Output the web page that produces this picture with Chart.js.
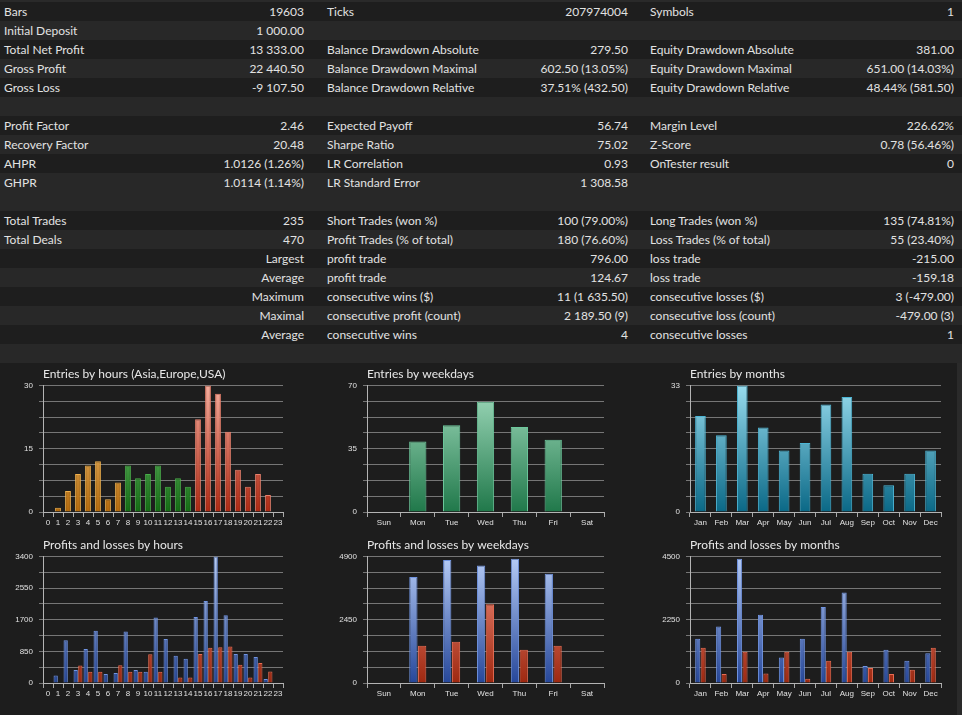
<!DOCTYPE html>
<html>
<head>
<meta charset="utf-8">
<title>Tester report</title>
<script src="https://cdn.jsdelivr.net/npm/chart.js@4.4.1/dist/chart.umd.min.js"></script>
<style>
    html, body { margin: 0; padding: 0; background: #1d1d1d; }
    body {
        width: 962px; height: 715px; position: relative; overflow: hidden;
        font-family: Lato, "Noto Sans", sans-serif; font-size: 12px; color: #e2e2e2;
    }
    #report { position: absolute; left: 0; top: 0; width: 962px; }
    .strip { height: 2px; background: #2a2a2a; }
    .row { position: relative; height: 19px; line-height: 19px; }
    .row.dark { background: #1e1e1e; }
    .row.light { background: #282828; }
    .row span { position: absolute; top: 0; white-space: nowrap; }
    .c0 { left: 4px; }
    .c1 { right: 658px; }
    .c2 { left: 327px; }
    .c3 { right: 334px; }
    .c4 { left: 650px; }
    .c5 { right: 8px; }
    canvas { position: absolute; }
    #edge { position: absolute; left: 957px; top: 363px; width: 5px; height: 352px; background: #2a2a2a; }
</style>
</head>
<body>
<div id="report"></div>
<div id="edge"></div>
<canvas id="hoursEntries" width="320" height="171" style="left:0;top:363px"></canvas>
<canvas id="daysEntries" width="320" height="171" style="left:320px;top:363px"></canvas>
<canvas id="monthsEntries" width="315" height="171" style="left:642px;top:363px"></canvas>
<canvas id="hoursPL" width="320" height="181" style="left:0;top:534px"></canvas>
<canvas id="daysPL" width="320" height="181" style="left:320px;top:534px"></canvas>
<canvas id="monthsPL" width="315" height="181" style="left:642px;top:534px"></canvas>
<script>
// ------------------ REPORT TABLE ------------------
// null = empty separator row
const reportRows = [
    ['Bars', '19603', 'Ticks', '207974004', 'Symbols', '1'],
    ['Initial Deposit', '1 000.00', '', '', '', ''],
    ['Total Net Profit', '13 333.00', 'Balance Drawdown Absolute', '279.50', 'Equity Drawdown Absolute', '381.00'],
    ['Gross Profit', '22 440.50', 'Balance Drawdown Maximal', '602.50 (13.05%)', 'Equity Drawdown Maximal', '651.00 (14.03%)'],
    ['Gross Loss', '-9 107.50', 'Balance Drawdown Relative', '37.51% (432.50)', 'Equity Drawdown Relative', '48.44% (581.50)'],
    null,
    ['Profit Factor', '2.46', 'Expected Payoff', '56.74', 'Margin Level', '226.62%'],
    ['Recovery Factor', '20.48', 'Sharpe Ratio', '75.02', 'Z-Score', '0.78 (56.46%)'],
    ['AHPR', '1.0126 (1.26%)', 'LR Correlation', '0.93', 'OnTester result', '0'],
    ['GHPR', '1.0114 (1.14%)', 'LR Standard Error', '1 308.58', '', ''],
    null,
    ['Total Trades', '235', 'Short Trades (won %)', '100 (79.00%)', 'Long Trades (won %)', '135 (74.81%)'],
    ['Total Deals', '470', 'Profit Trades (% of total)', '180 (76.60%)', 'Loss Trades (% of total)', '55 (23.40%)'],
    ['', 'Largest', 'profit trade', '796.00', 'loss trade', '-215.00'],
    ['', 'Average', 'profit trade', '124.67', 'loss trade', '-159.18'],
    ['', 'Maximum', 'consecutive wins ($)', '11 (1 635.50)', 'consecutive losses ($)', '3 (-479.00)'],
    ['', 'Maximal', 'consecutive profit (count)', '2 189.50 (9)', 'consecutive loss (count)', '-479.00 (3)'],
    ['', 'Average', 'consecutive wins', '4', 'consecutive losses', '1'],
    null
];

// ------------------ CHART DATA ------------------
const hourLabels = ['0', '1', '2', '3', '4', '5', '6', '7', '8', '9', '10', '11',
    '12', '13', '14', '15', '16', '17', '18', '19', '20', '21', '22', '23'];
const hourEntries = [null, 1, 5, 9, 11, 12, 3, 7, 11, 8, 9, 11, 6, 8, 6, 22, 30, 28, 19, 10, 6, 9, 4, null];
const hourSessions = ['Asia', 'Asia', 'Asia', 'Asia', 'Asia', 'Asia', 'Asia', 'Asia',
    'Europe', 'Europe', 'Europe', 'Europe', 'Europe', 'Europe', 'Europe',
    'USA', 'USA', 'USA', 'USA', 'USA', 'USA', 'USA', 'USA', 'USA'];
const hourProfits = [null, 200, 1150, 350, 910, 1400, 240, 270, 1380, 350, 300, 1760,
    1180, 730, 650, 1770, 2200, 3400, 1820, 780, 780, 700, 110, null];
const hourLosses = [null, null, null, 470, 300, 300, null, 480, 300, 300, 770, 300,
    null, 150, 150, 780, 950, 960, 980, 490, 150, 540, 310, null];

const weekdayLabels = ['Sun', 'Mon', 'Tue', 'Wed', 'Thu', 'Fri', 'Sat'];
const weekdayEntries = [null, 39, 48, 61, 47, 40, null];
const weekdayProfits = [null, 4100, 4760, 4550, 4810, 4230, null];
const weekdayLosses = [null, 1440, 1600, 3050, 1290, 1440, null];

const monthLabels = ['Jan', 'Feb', 'Mar', 'Apr', 'May', 'Jun', 'Jul', 'Aug', 'Sep', 'Oct', 'Nov', 'Dec'];
const monthEntries = [25, 20, 33, 22, 16, 18, 28, 30, 10, 7, 10, 16];
const monthProfits = [1570, 2010, 4420, 2430, 910, 1570, 2700, 3220, 600, 1180, 790, 1060];
const monthLosses = [1250, 320, 1110, 340, 1110, 150, 790, 1110, 530, 320, 470, 1250];

// y axis: max value and the ticks that carry a label (8 grid steps)
const hourEntriesTicks = [0, 15, 30];
const weekdayEntriesTicks = [0, 35, 70];
const monthEntriesTicks = [0, 33];
const hourPLTicks = [0, 850, 1700, 2550, 3400];
const weekdayPLTicks = [0, 2450, 4900];
const monthPLTicks = [0, 2250, 4500];

// ------------------ TABLE ------------------
function buildReport() {
    const report = document.getElementById('report');
    let html = '<div class="strip"></div>';
    let dark = true;
    reportRows.forEach(row => {
        if (!row) {
            html += '<div class="row light"></div>';
            dark = true;
            return;
        }
        html += `<div class="row ${dark ? 'dark' : 'light'}">` +
            row.map((t, i) => `<span class="c${i}">${t}</span>`).join('') + '</div>';
        dark = !dark;
    });
    report.innerHTML = html;
}

// ------------------ CHARTS ------------------
const palette = {
    Asia: { bottom: '#b46a0c', top: '#ffd890', border: '#f0b04c' },
    Europe: { bottom: '#136c13', top: '#8ee08e', border: '#49ad49' },
    USA: { bottom: '#ae2812', top: '#f6ac9c', border: '#e8806c' },
    weekday: { bottom: '#20784a', top: '#a2dcbe', border: '#6cc89c' },
    month: { bottom: '#0a6886', top: '#98dcee', border: '#4cb6d6' },
    profit: { bottom: '#26479a', top: '#b6ccf6', border: '#7094e2' },
    loss: { bottom: '#9e2810', top: '#f69482', border: '#e86c52' }
};

function vGrad(chart, c) {
    const { ctx, chartArea } = chart;
    if (!chartArea) return c.bottom;
    const g = ctx.createLinearGradient(0, chartArea.bottom, 0, chartArea.top);
    g.addColorStop(0, c.bottom);
    g.addColorStop(1, c.top);
    return g;
}

const tickFont = { family: '"Liberation Sans", Arial, sans-serif', size: 8 };

function makeChart(id, opts) {
    const canvas = document.getElementById(id);
    const max = opts.ticks[opts.ticks.length - 1];
    const step = max / 8;
    new Chart(canvas.getContext('2d'), {
        type: 'bar',
        data: { labels: opts.labels, datasets: opts.datasets },
        options: {
            responsive: false,
            animation: false,
            events: [],
            layout: { padding: { left: 0, right: opts.padRight, top: 0, bottom: 0 } },
            datasets: { bar: { categoryPercentage: opts.catPct, barPercentage: opts.barPct, borderWidth: 1, borderSkipped: 'bottom' } },
            plugins: {
                legend: { display: false },
                tooltip: { enabled: false },
                title: {
                    display: true,
                    text: opts.title,
                    align: 'start',
                    fullSize: false,
                    color: '#e8e8e8',
                    font: { family: 'Lato, "Noto Sans", sans-serif', size: 12, weight: 'normal', lineHeight: 1.2 },
                    padding: { top: 4, bottom: 4 }
                }
            },
            scales: {
                x: {
                    grid: { display: true, offset: true, drawOnChartArea: false, drawTicks: true, tickLength: 5, color: '#a8a8a8' },
                    border: { color: '#b4b4b4' },
                    ticks: { autoSkip: false, maxRotation: 0, minRotation: 0, padding: 1, color: '#e0e0e0', font: tickFont },
                    afterFit: (scale) => { scale.height = opts.xHeight; }
                },
                y: {
                    min: 0,
                    max: max,
                    grid: { color: '#767676', tickLength: 4 },
                    border: { color: '#b4b4b4' },
                    ticks: {
                        stepSize: step,
                        padding: 6,
                        color: '#e0e0e0',
                        font: tickFont,
                        callback: (v) => opts.ticks.some(t => Math.abs(t - v) < 1e-6) ? String(v) : ''
                    },
                    afterFit: (scale) => { scale.width = opts.yWidth; }
                }
            }
        }
    });
}

function initCharts() {
    makeChart('hoursEntries', {
        title: 'Entries by hours (Asia,Europe,USA)',
        labels: hourLabels,
        ticks: hourEntriesTicks,
        yWidth: 43, padRight: 37, xHeight: 22, catPct: 1, barPct: 0.58,
        datasets: [{
            data: hourEntries,
            backgroundColor: (c) => vGrad(c.chart, palette[hourSessions[c.dataIndex]]),
            borderColor: (c) => palette[hourSessions[c.dataIndex]].border
        }]
    });

    makeChart('daysEntries', {
        title: 'Entries by weekdays',
        labels: weekdayLabels,
        ticks: weekdayEntriesTicks,
        yWidth: 47, padRight: 36, xHeight: 22, catPct: 1, barPct: 0.51,
        datasets: [{
            data: weekdayEntries,
            backgroundColor: (c) => vGrad(c.chart, palette.weekday),
            borderColor: palette.weekday.border
        }]
    });

    makeChart('monthsEntries', {
        title: 'Entries by months',
        labels: monthLabels,
        ticks: monthEntriesTicks,
        yWidth: 48, padRight: 16, xHeight: 22, catPct: 1, barPct: 0.51,
        datasets: [{
            data: monthEntries,
            backgroundColor: (c) => vGrad(c.chart, palette.month),
            borderColor: palette.month.border
        }]
    });

    const plSets = (profits, losses) => [
        {
            label: 'Profits',
            data: profits,
            backgroundColor: (c) => vGrad(c.chart, palette.profit),
            borderColor: palette.profit.border
        },
        {
            label: 'Losses',
            data: losses,
            backgroundColor: (c) => vGrad(c.chart, palette.loss),
            borderColor: palette.loss.border
        }
    ];

    makeChart('hoursPL', {
        title: 'Profits and losses by hours',
        labels: hourLabels,
        ticks: hourPLTicks,
        yWidth: 43, padRight: 37, xHeight: 32, catPct: 0.93, barPct: 0.92,
        datasets: plSets(hourProfits, hourLosses)
    });

    makeChart('daysPL', {
        title: 'Profits and losses by weekdays',
        labels: weekdayLabels,
        ticks: weekdayPLTicks,
        yWidth: 47, padRight: 36, xHeight: 32, catPct: 0.52, barPct: 0.94,
        datasets: plSets(weekdayProfits, weekdayLosses)
    });

    makeChart('monthsPL', {
        title: 'Profits and losses by months',
        labels: monthLabels,
        ticks: monthPLTicks,
        yWidth: 48, padRight: 16, xHeight: 32, catPct: 0.52, barPct: 0.94,
        datasets: plSets(monthProfits, monthLosses)
    });
}

// ------------------ INIT ------------------
buildReport();
initCharts();
</script>
</body>
</html>
